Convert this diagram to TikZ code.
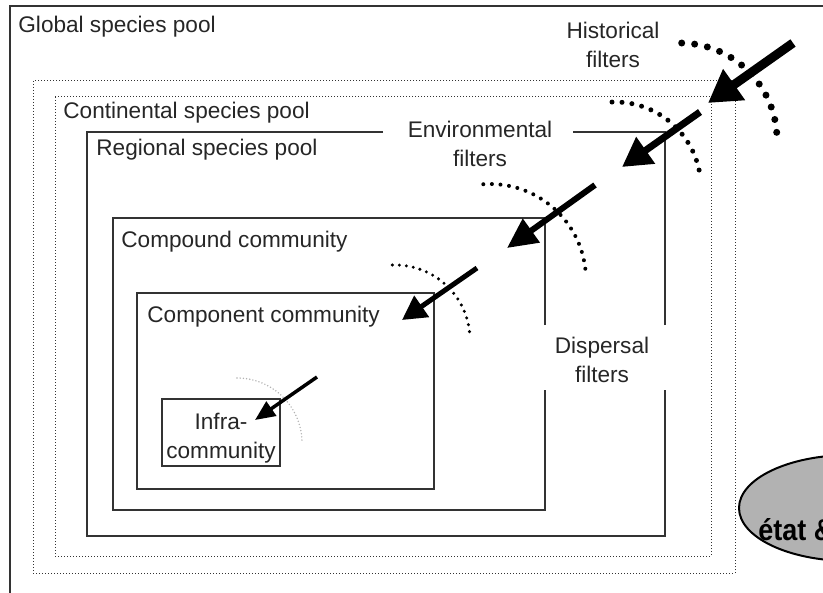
\documentclass[tikz,border=0pt]{standalone}
\usepackage{fontspec}
\setmainfont{Liberation Sans}
\newfontfamily\etatfont[FakeStretch=0.9]{Liberation Sans}
\usetikzlibrary{arrows.meta}
\tikzstyle{poolline} = [draw=black!80, line width=0.75pt]
\tikzstyle{dotline} = [draw=black!80, line width=0.5pt, dash pattern=on 0.5pt off 1pt]
\tikzstyle{poollabel} = [anchor=base west, inner sep=0pt, text=black!85]
\tikzstyle{filterlabel} = [anchor=base, align=center, inner sep=0pt, text=black!85]
\tikzset{
  filterarrow/.style n args={3}{line width=#1, -{Triangle[length=#2, width=#3]}},
  filterdots/.style 2 args={line width=#1, line cap=round, dash pattern=on 0pt off #2}
}

\begin{document}
\begin{tikzpicture}[x=0.5pt, y=-0.5pt, font=\fontsize{11.3}{14.5}\selectfont]
		\useasboundingbox (0,0) rectangle (823,593);
		\clip (0,0) rectangle (823,593);
		% pools
		\draw[poolline] (10,6) rectangle (840,610);
		\draw[dotline] (33,81) rectangle (735,573);
		\draw[dotline] (55,97) rectangle (711,556);
		\draw[poolline] (383,132) -| (87,536) -| (665,390);
		\draw[poolline] (665,325) |- (573,132);
		\draw[poolline] (545,325) |- (113,218) |- (545,510) -- (545,390);
		\draw[poolline] (137,293) rectangle (434,489);
		\draw[poolline] (162,399) rectangle (280,466);
		\node[poollabel] (global) at (18,33) {Global species pool};
		\node[poollabel] (continental) at (63,119) {Continental species pool};
		\node[poollabel] (regional) at (96,156) {Regional species pool};
		\node[poollabel] (compound) at (121,247) {Compound community};
		\node[poollabel] (component) at (147,322) {Component community};
		\node[filterlabel] (infra) at (221,458) {Infra-\\community};
		% filters (base = last line)
		\node[filterlabel] (historical) at (613,68) {Historical\\filters};
		\node[filterlabel] (environmental) at (480,167) {Environmental\\filters};
		\node[filterlabel] (dispersal) at (602,382) {Dispersal\\filters};
		\draw[filterdots={3.5pt}{6.5pt}] (680,140) ++(-89:97) arc[start angle=-89, end angle=-2, radius=97];
		\draw[filterdots={2.5pt}{5pt}] (615,188) ++(-92:86) arc[start angle=-92, end angle=-6, radius=86];
		\draw[filterdots={2pt}{4.3pt}] (490,280) ++(-94:96) arc[start angle=-94, end angle=-5, radius=96];
		\draw[filterdots={1.7pt}{3.5pt}] (395,340) ++(-92:75) arc[start angle=-92, end angle=-2, radius=75];
		\draw[filterdots={0.8pt}{1.6pt}, gray!60] (237,443) ++(-90:65) arc[start angle=-90, end angle=0, radius=65];
		\draw[filterarrow={4.5pt}{16pt}{18pt}] (793,43) -- (708,103);
		\draw[filterarrow={3.5pt}{14.5pt}{15.5pt}] (700,112) -- (622,167);
		\draw[filterarrow={3pt}{15pt}{14pt}] (595,185) -- (507,248);
		\draw[filterarrow={2.5pt}{12pt}{12.5pt}] (477,268) -- (402,320);
		\draw[filterarrow={1.75pt}{10pt}{8.5pt}] (317,377) -- (255,420);
		% state bubble
		\draw[fill=gray!60, line width=1pt] (850,508) ellipse [x radius=111, y radius=53];
		\node[anchor=base west, inner sep=0pt, font=\etatfont\bfseries\fontsize{15}{18}\selectfont] (etat) at (758,540) {état \&};
\end{tikzpicture}
\end{document}
